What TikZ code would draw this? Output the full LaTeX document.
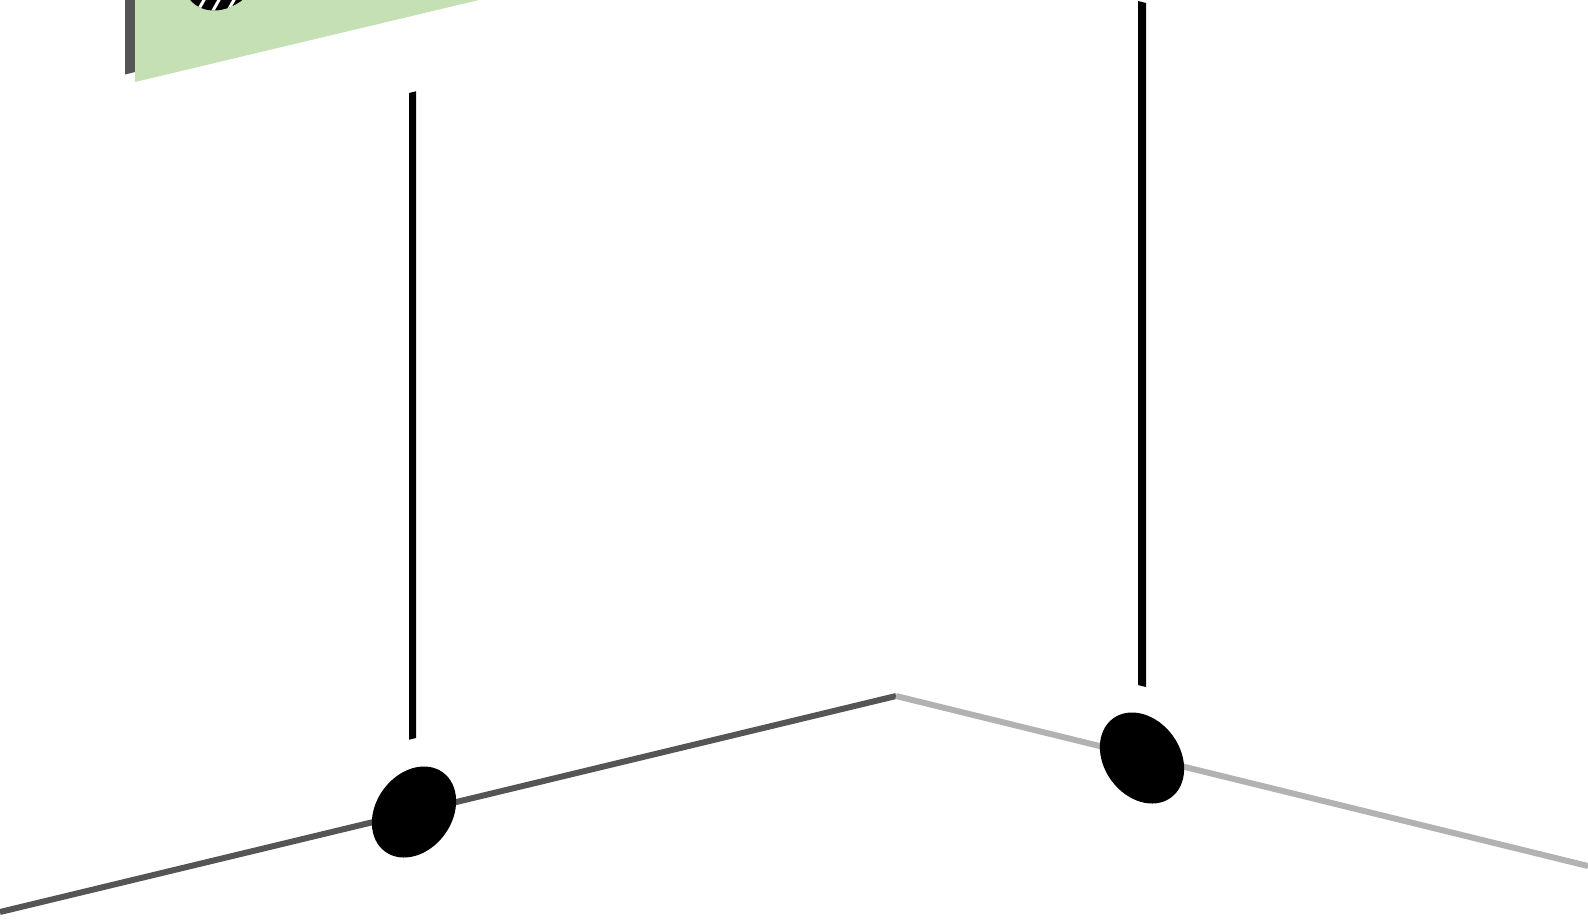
\documentclass[tikz,border=0pt]{standalone}
\usepackage{tikz}
\definecolor{boardgreen}{RGB}{197,224,180}
\definecolor{edgedark}{RGB}{85,85,85}
\definecolor{edgelight}{RGB}{178,178,178}

\begin{document}
\begin{tikzpicture}[x=0.5pt, y=-0.5pt,
      edge/.style={line width=3pt, line cap=butt},
      knob/.style={x radius=24.5pt, y radius=19pt},
      pole/.style={fill=black}
    ]
      \useasboundingbox (0,0) rectangle (1588,921);
      \clip (0,0) rectangle (1588,921);

      % board at the top left
      \fill[edgedark] (125,-10) -- (135,-10) -- (135,72) -- (125,74.5) -- cycle;
      \fill[boardgreen] (135,82) -- (135,-10) -- (521,-10) -- cycle;
      \begin{scope}
        \clip (224,-35) ellipse [knob, rotate=54];
        \fill[black] (224,-35) ellipse [knob, rotate=54];
        \foreach \i in {-6,...,6}
          \draw[white, line width=1.5pt] (184+\i*15,35) -- (264+\i*15,-105);
      \end{scope}

      % ground edges
      \draw[edge, edgedark] (0,912) -- (896,696);
      \draw[edge, edgelight] (896,696) -- (1588,866);

      % poles
      \fill[pole] (409,93) -- (416,91.3) -- (416,738) -- (409,739.7) -- cycle;
      \fill[pole] (1138,1) -- (1146,3) -- (1146,687) -- (1138,685) -- cycle;

      % knobs on the edges
      \fill[black] (414,812) ellipse [knob, rotate=54];
      \fill[black] (1142,758) ellipse [knob, rotate=-54];
    \end{tikzpicture}
\end{document}
